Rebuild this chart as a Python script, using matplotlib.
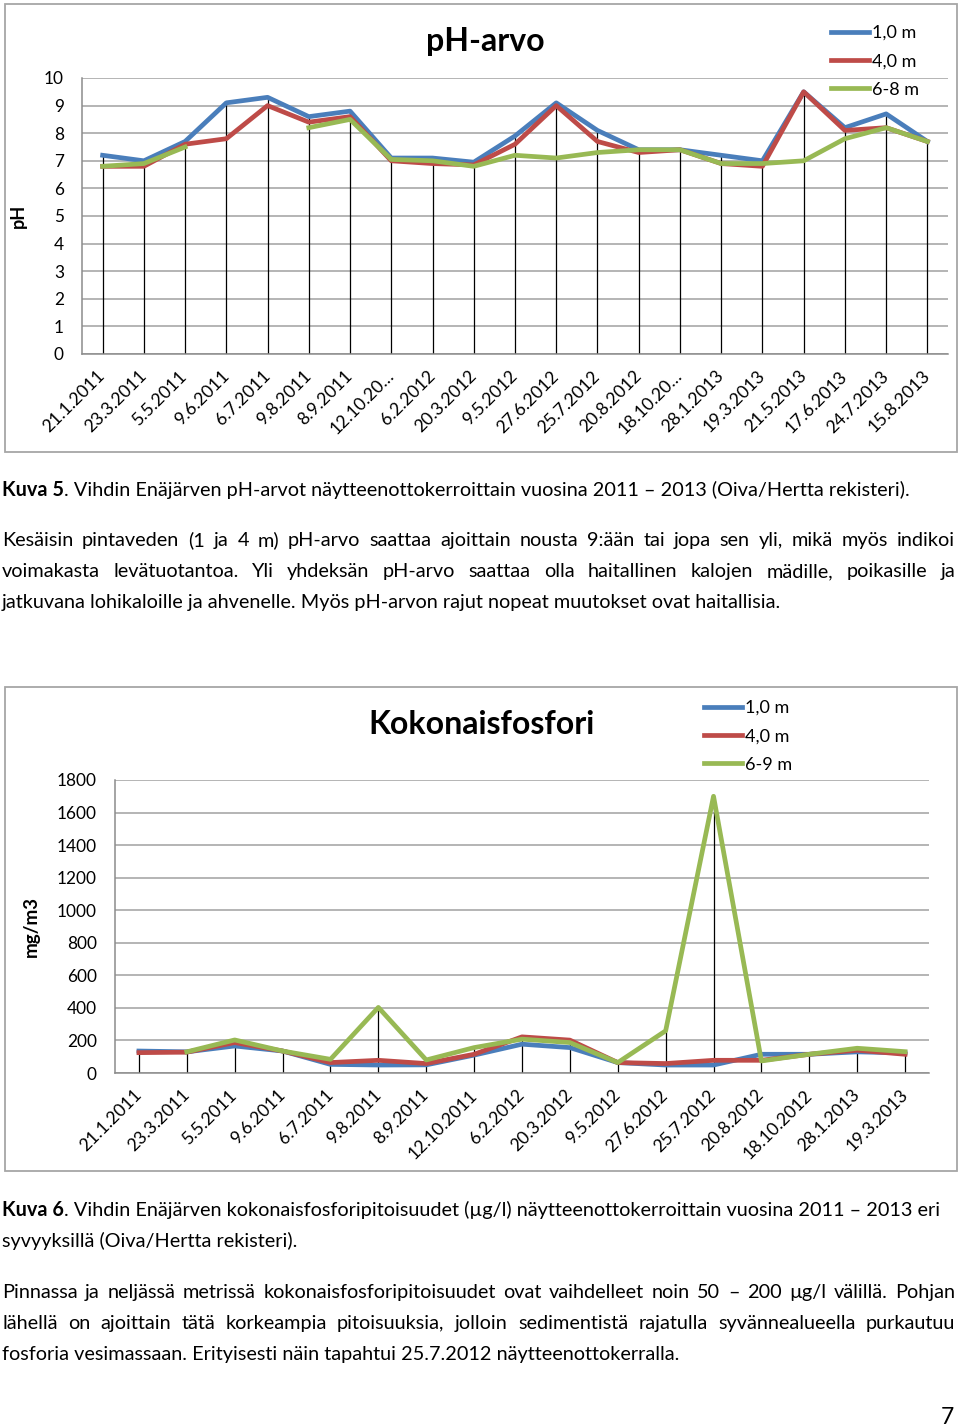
import numpy as np
import matplotlib
matplotlib.use("Agg")
import matplotlib.pyplot as plt
from matplotlib.patches import Rectangle

W, H = 960, 1427

# --- pH chart data ---
ph_dates = ["21.1.2011", "23.3.2011", "5.5.2011", "9.6.2011", "6.7.2011", "9.8.2011",
            "8.9.2011", "12.10.20…", "6.2.2012", "20.3.2012", "9.5.2012", "27.6.2012",
            "25.7.2012", "20.8.2012", "18.10.20…", "28.1.2013", "19.3.2013", "21.5.2013",
            "17.6.2013", "24.7.2013", "15.8.2013"]
ph_1m = [7.2, 7.0, 7.7, 9.1, 9.3, 8.6, 8.8, 7.1, 7.1, 6.95, 7.9, 9.1, 8.1, 7.4, 7.4,
         7.2, 7.0, 9.5, 8.2, 8.7, 7.7]
ph_4m = [6.8, 6.8, 7.6, 7.8, 9.0, 8.4, 8.6, 7.0, 6.9, 6.85, 7.6, 9.0, 7.7, 7.3, 7.4,
         6.9, 6.8, 9.5, 8.1, 8.2, 7.7]
ph_6_8m = [6.8, 6.9, 7.5, np.nan, np.nan, 8.2, 8.5, 7.05, 7.0, 6.8, 7.2, 7.1, 7.3, 7.4,
           7.4, 6.9, 6.9, 7.0, 7.8, 8.2, 7.7]
ph_labels = ["1,0 m", "4,0 m", "6-8 m"]

# --- total phosphorus chart data ---
p_dates = ["21.1.2011", "23.3.2011", "5.5.2011", "9.6.2011", "6.7.2011", "9.8.2011",
           "8.9.2011", "12.10.2011", "6.2.2012", "20.3.2012", "9.5.2012", "27.6.2012",
           "25.7.2012", "20.8.2012", "18.10.2012", "28.1.2013", "19.3.2013"]
p_1m = [135, 130, 166, 135, 53, 49, 50, 110, 177, 156, 64, 49, 49, 115, 115, 130, 123]
p_4m = [125, 128, 187, 135, 64, 78, 58, 115, 222, 202, 64, 58, 78, 78, 115, 140, 115]
p_6_9m = [np.nan, 130, 203, 135, 84, 403, 80, 156, 208, 187, 64, 259, 1700, 74, 115,
          152, 131]
p_labels = ["1,0 m", "4,0 m", "6-9 m"]

COLORS = ["#4A7EBB", "#BE4B48", "#98B954"]

plt.rcParams["font.family"] = ["Lato", "DejaVu Sans"]

fig = plt.figure(figsize=(W / 100, H / 100), dpi=100)
renderer = fig.canvas.get_renderer()


def fx(px):
    return px / W


def fy(py):
    return 1 - py / H


def text_width(s, **kw):
    t = fig.text(0, 0, s, **kw)
    w = t.get_window_extent(renderer).width
    t.remove()
    return w


def frame(x0, y0, x1, y1):
    fig.patches.append(Rectangle((fx(x0), fy(y1)), fx(x1 - x0), (y1 - y0) / H,
                                 transform=fig.transFigure, fill=False,
                                 edgecolor="#A6A6A6", lw=1.3))


def chart(rect, dates, series, labels, ymax, ystep, title, title_xy, ylabel,
          ylabel_x, ylabel_size, legend_xy):
    left, top, right, bottom = rect
    ax = fig.add_axes([fx(left), fy(bottom), fx(right - left), (bottom - top) / H])
    x = np.arange(len(dates))
    data = np.array(series, dtype=float)
    # drop lines from the highest value down to the axis
    ax.vlines(x, 0, np.nanmax(data, axis=0), color="black", lw=0.9, zorder=2)
    for vals, col, lab in zip(data, COLORS, labels):
        ax.plot(x, vals, color=col, lw=3.4, label=lab, zorder=3)
    ax.set_xlim(-0.5, len(dates) - 0.5)
    ax.set_ylim(0, ymax)
    ax.set_yticks(np.arange(0, ymax + ystep / 2, ystep))
    ax.set_xticks(x)
    ax.set_xticklabels(dates, rotation=45, ha="right", va="center",
                       rotation_mode="anchor")
    ax.tick_params(axis="x", length=0, pad=14, labelsize=12.7)
    ax.tick_params(axis="y", length=0, pad=13, labelsize=12.4)
    ax.set_axisbelow(True)
    ax.grid(axis="y", color="#A0A0A0", lw=1.1)
    for s in ["top", "right"]:
        ax.spines[s].set_visible(False)
    for s in ["left", "bottom"]:
        ax.spines[s].set_color("#8C8C8C")
        ax.spines[s].set_linewidth(1.1)
    ax.set_ylabel(ylabel, weight="bold", size=ylabel_size)
    ax.yaxis.set_label_coords(fx(ylabel_x), fy((top + bottom) / 2),
                              transform=fig.transFigure)
    fig.text(fx(title_xy[0]), fy(title_xy[1]), title, weight="bold", size=23,
             ha="center", va="center")
    ax.legend(loc="upper left", bbox_to_anchor=(fx(legend_xy[0]), fy(legend_xy[1])),
              bbox_transform=fig.transFigure, frameon=False, fontsize=13,
              handlelength=2.1, handletextpad=0.17, labelspacing=0.68,
              borderpad=0, borderaxespad=0)
    return ax


frame(5, 4, 957, 452)
chart((82, 78, 948, 354), ph_dates, [ph_1m, ph_4m, ph_6_8m], ph_labels, 10, 1,
      "pH-arvo", (485, 42), "pH", 27, 13, (831, 25))

frame(5, 687, 957, 1171)
chart((115, 780, 929, 1073), p_dates, [p_1m, p_4m, p_6_9m], p_labels, 1800, 200,
      "Kokonaisfosfori", (481, 724), "mg/m3", 40, 13.5, (704, 700))

# --- body text ---
cap1_bold = "Kuva 5"
cap1_rest = ". Vihdin Enäjärven pH-arvot näytteenottokerroittain vuosina 2011 – 2013 (Oiva/Hertta rekisteri)."
w10 = text_width(cap1_bold, size=10, weight="bold") + text_width(cap1_rest, size=10)
BODY = 10 * 908 / w10


def caption(y, bold, rest):
    fig.text(fx(2), fy(y), bold, weight="bold", size=BODY, va="baseline")
    w = text_width(bold, weight="bold", size=BODY)
    fig.text(fx(2 + w), fy(y), rest, size=BODY, va="baseline")


def para_line(y, s, justify=True):
    if not justify:
        fig.text(fx(2), fy(y), s, size=BODY, va="baseline")
        return
    words = s.split(" ")
    widths = [text_width(w, size=BODY) for w in words]
    gap = (953 - sum(widths)) / (len(words) - 1)
    x = 2
    for w, wd in zip(words, widths):
        fig.text(fx(x), fy(y), w, size=BODY, va="baseline")
        x += wd + gap


caption(496, cap1_bold, cap1_rest)
para_line(546, "Kesäisin pintaveden (1 ja 4 m) pH-arvo saattaa ajoittain nousta 9:ään tai jopa sen yli, mikä myös indikoi")
para_line(577, "voimakasta levätuotantoa. Yli yhdeksän pH-arvo saattaa olla haitallinen kalojen mädille, poikasille ja")
para_line(608, "jatkuvana lohikaloille ja ahvenelle. Myös pH-arvon rajut nopeat muutokset ovat haitallisia.", False)

caption(1216, "Kuva 6", ". Vihdin Enäjärven kokonaisfosforipitoisuudet (µg/l) näytteenottokerroittain vuosina 2011 – 2013 eri")
para_line(1247, "syvyyksillä (Oiva/Hertta rekisteri).", False)
para_line(1298, "Pinnassa ja neljässä metrissä kokonaisfosforipitoisuudet ovat vaihdelleet noin 50 – 200 µg/l välillä. Pohjan")
para_line(1329, "lähellä on ajoittain tätä korkeampia pitoisuuksia, jolloin sedimentistä rajatulla syvännealueella purkautuu")
para_line(1360, "fosforia vesimassaan. Erityisesti näin tapahtui 25.7.2012 näytteenottokerralla.", False)

fig.text(fx(954), fy(1424), "7", size=BODY * 1.15, ha="right", va="baseline")

fig.savefig("out.png", dpi=100)
